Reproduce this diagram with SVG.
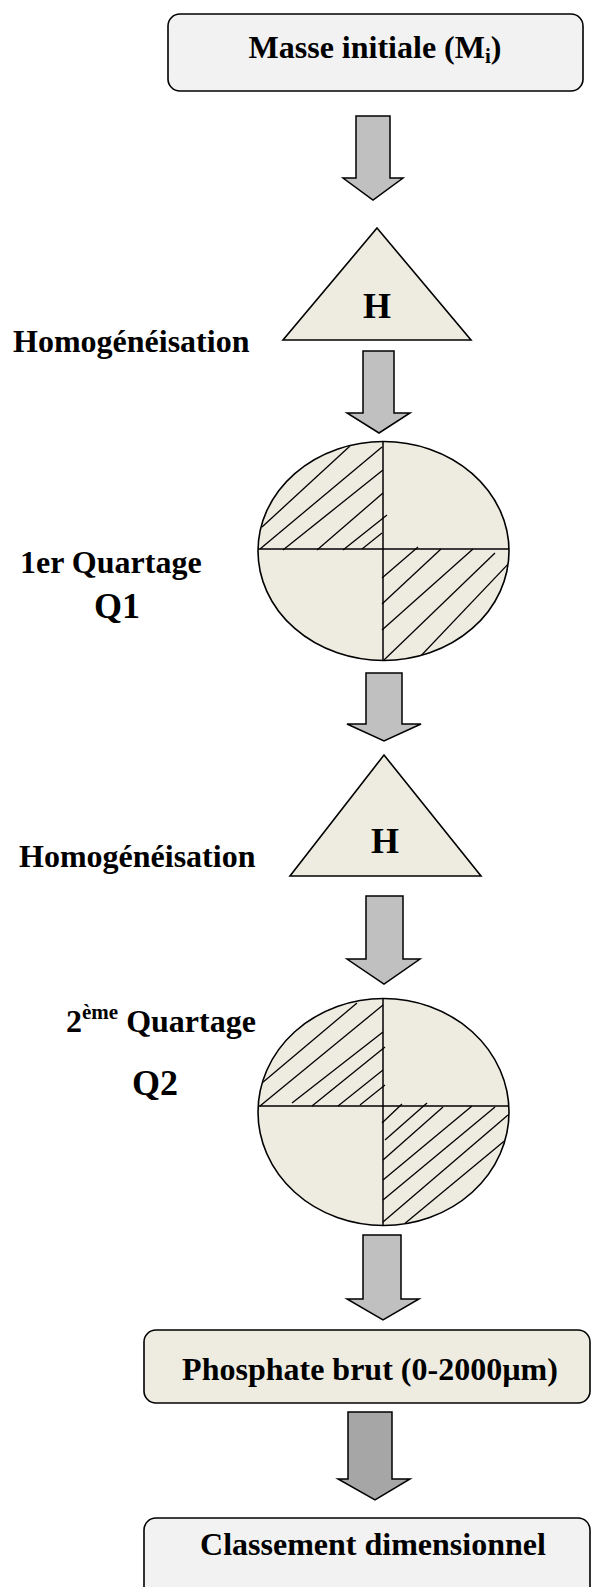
<svg xmlns="http://www.w3.org/2000/svg" width="592" height="1587" viewBox="0 0 592 1587">
<style>
.box{fill:#f2f2f2;stroke:#000;stroke-width:1.6}
.beige{fill:#eeece1;stroke:#000;stroke-width:1.6}
.arr{fill:#c0c0c0;stroke:#000;stroke-width:1.5;stroke-linejoin:miter}
.arr2{fill:#a6a6a6;stroke:#000;stroke-width:1.5}
.t{font-family:"Liberation Serif","Times New Roman",serif;font-weight:bold;font-size:32px;fill:#000}
.h{font-size:36px}
.ln{stroke:#000;stroke-width:1.5;fill:none}
.hat{stroke:#000;stroke-width:1.3;fill:none}
</style>
<rect width="592" height="1587" fill="#fff"/>
<g id="connectors">
<polygon class="arr" points="356,116 390,116 390,178 403,178 373,200 343,178 356,178"/>
<polygon class="arr" points="363,351 394,351 394,413 410,413 379,433 347,413 363,413"/>
<polygon class="arr" points="366,673 402,673 402,724 421,724 384,741 347,724 366,724"/>
<polygon class="arr" points="366,896 403,896 403,959 420,959 384,984 347,959 366,959"/>
<polygon class="arr" points="363,1235 401,1235 401,1299 419,1299 383,1320 347,1299 363,1299"/>
<polygon class="arr2" points="348,1412 392,1412 392,1479 410,1479 375,1500 338,1479 348,1479"/>
</g>
<g id="masse">
<rect class="box" x="168" y="14" width="415" height="77" rx="12"/>
<text class="t" x="375" y="58" text-anchor="middle">Masse initiale (M<tspan font-size="21" dy="5">i</tspan><tspan dy="-5">)</tspan></text>
</g>
<g id="h1">
<polygon class="beige" points="377,228 471,340 283,340"/>
<text class="t h" x="377" y="318" text-anchor="middle">H</text>
</g>
<g id="label-homog1">
<text class="t" x="13" y="352">Homogénéisation</text>
</g>
<g id="q1">
<defs><clipPath id="c1"><ellipse cx="383.5" cy="551" rx="125" ry="109"/></clipPath></defs>
<ellipse class="beige" cx="383.5" cy="551" rx="125.5" ry="109.5"/>
<g clip-path="url(#c1)">
<line class="hat" x1="262" y1="527" x2="350" y2="446"/>
<line class="hat" x1="260" y1="549" x2="382" y2="447"/>
<line class="hat" x1="283" y1="550" x2="383" y2="470"/>
<line class="hat" x1="317" y1="550" x2="383" y2="493"/>
<line class="hat" x1="343" y1="550" x2="387" y2="515"/>
<line class="hat" x1="362" y1="549" x2="382" y2="533"/>
<line class="hat" x1="382" y1="578" x2="418" y2="547"/>
<line class="hat" x1="382" y1="604" x2="441" y2="549"/>
<line class="hat" x1="382" y1="630" x2="473" y2="549"/>
<line class="hat" x1="384" y1="660" x2="495" y2="553"/>
<line class="hat" x1="415" y1="662" x2="512" y2="560"/>
</g>
<line class="ln" x1="258" y1="549" x2="509" y2="549"/>
<line class="ln" x1="383" y1="441" x2="383" y2="661"/>
</g>
<g id="label-q1">
<text class="t" x="20" y="573">1er Quartage</text>
<text class="t h" x="94" y="618">Q1</text>
</g>
<g id="h2">
<polygon class="beige" points="384,755 481,876 290,876"/>
<text class="t h" x="385" y="853" text-anchor="middle">H</text>
</g>
<g id="label-homog2">
<text class="t" x="19" y="867">Homogénéisation</text>
</g>
<g id="q2">
<defs><clipPath id="c2"><ellipse cx="383.5" cy="1112" rx="125" ry="113"/></clipPath></defs>
<ellipse class="beige" cx="383.5" cy="1112" rx="125.5" ry="113.5"/>
<g clip-path="url(#c2)">
<line class="hat" x1="262" y1="1083" x2="357" y2="1003"/>
<line class="hat" x1="260" y1="1106" x2="383" y2="1005"/>
<line class="hat" x1="292" y1="1103" x2="383" y2="1032"/>
<line class="hat" x1="312" y1="1106" x2="385" y2="1047"/>
<line class="hat" x1="338" y1="1106" x2="383" y2="1070"/>
<line class="hat" x1="360" y1="1105" x2="385" y2="1085"/>
<line class="hat" x1="382" y1="1123" x2="402" y2="1104"/>
<line class="hat" x1="385" y1="1140" x2="427" y2="1103"/>
<line class="hat" x1="383" y1="1160" x2="443" y2="1107"/>
<line class="hat" x1="383" y1="1180" x2="472" y2="1106"/>
<line class="hat" x1="383" y1="1200" x2="495" y2="1107"/>
<line class="hat" x1="383" y1="1222" x2="508" y2="1115"/>
<line class="hat" x1="403" y1="1225" x2="508" y2="1138"/>
</g>
<line class="ln" x1="258" y1="1106" x2="509" y2="1106"/>
<line class="ln" x1="383" y1="998" x2="383" y2="1226"/>
</g>
<g id="label-q2">
<text class="t" x="66" y="1032">2<tspan font-size="21" dy="-13">ème</tspan><tspan dy="13"> Quartage</tspan></text>
<text class="t h" x="132" y="1095">Q2</text>
</g>
<g id="phosphate">
<rect class="beige" x="144" y="1330" width="446" height="73" rx="12"/>
<text class="t" x="370" y="1380" text-anchor="middle">Phosphate brut (0-2000µm)</text>
</g>
<g id="classement">
<rect class="box" x="144" y="1518" width="446" height="100" rx="12"/>
<text class="t" x="373" y="1555" text-anchor="middle">Classement dimensionnel</text>
</g>
</svg>
